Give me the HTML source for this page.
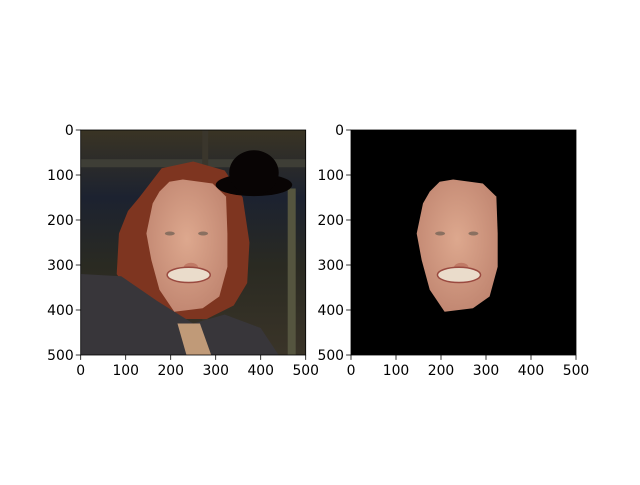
<!DOCTYPE html>
<html><head><meta charset="utf-8"><style>
body{margin:0;background:#fff}
svg text{font-family:"DejaVu Sans","Liberation Sans",sans-serif;font-size:13.9px;fill:#000}
</style></head><body>
<svg width="640" height="480" viewBox="0 0 640 480">
<defs>
<clipPath id="c1"><rect x="80.7" y="130" width="225" height="225"/></clipPath>
<clipPath id="c2"><rect x="351" y="130" width="225" height="225"/></clipPath>
<linearGradient id="bg" x1="0" y1="0" x2="0" y2="1">
<stop offset="0" stop-color="#3a3424"/><stop offset="0.3" stop-color="#1c2230"/><stop offset="0.6" stop-color="#2a2a22"/><stop offset="1" stop-color="#3a3428"/></linearGradient>
<radialGradient id="skin" cx="0.5" cy="0.45" r="0.6"><stop offset="0" stop-color="#dda88e"/><stop offset="1" stop-color="#c08570"/></radialGradient>
</defs>
<g id="ax1"></g>
<g id="ax2"></g>
<script>
const ticks=[0,100,200,300,400,500];
const facePoly=[[197,115],[175,137],[160,163],[146,230],[157,289],[175,355],[208,404],[271,396],[308,370],[326,304],[326,230],[323,148],[293,119],[227,110]];
const axes=[{g:'ax1',x0:80.7,clip:'c1',photo:true},{g:'ax2',x0:351,clip:'c2',photo:false}];
const NS='http://www.w3.org/2000/svg';
function mk(p,t,a){const e=document.createElementNS(NS,t);for(const k in a)e.setAttribute(k,a[k]);p.appendChild(e);return e;}
axes.forEach(A=>{
 const g=document.getElementById(A.g);
 const sx=v=>A.x0+v*0.45, sy=v=>130+v*0.45;
 const P=a=>a.map(p=>sx(p[0])+','+sy(p[1])).join(' ');
 const img=mk(g,'g',{'clip-path':'url(#'+A.clip+')'});
 
 
 if(A.photo){
  mk(img,'rect',{x:sx(0),y:sy(0),width:225,height:225,fill:'url(#bg)'});
  mk(img,'rect',{x:sx(0),y:sy(65),width:225,height:8,fill:'#3e3e36'});
  mk(img,'rect',{x:sx(270),y:sy(0),width:6,height:225,fill:'#3a362c'});
  mk(img,'rect',{x:sx(460),y:sy(130),width:8,height:170,fill:'#55553f'});
  mk(img,'polygon',{points:P([[130,150],[180,85],[250,70],[320,90],[360,150],[375,250],[370,340],[340,390],[280,420],[190,420],[120,380],[80,320],[85,230],[105,180]]),fill:'#7e3520'});
  mk(img,'polygon',{points:P([[0,320],[90,325],[170,380],[250,430],[320,410],[400,440],[440,500],[0,500]]),fill:'#38363a'});
  mk(img,'polygon',{points:P([[215,430],[265,430],[290,500],[235,500]]),fill:'#c09a78'});
  const hat=mk(img,'g',{});
  
  
  mk(hat,'ellipse',{cx:sx(385),cy:sy(122),rx:0.45*85,ry:0.45*25,fill:'#080404'});
  mk(hat,'ellipse',{cx:sx(385),cy:sy(95),rx:0.45*55,ry:0.45*50,fill:'#080404'});
 } else {
  mk(img,'rect',{x:sx(0),y:sy(0),width:225,height:225,fill:'#000'});
 }
 mk(img,'polygon',{points:P(facePoly),fill:'url(#skin)'});
 [[198,230],[272,230]].forEach(e=>mk(img,'ellipse',{cx:sx(e[0]),cy:sy(e[1]),rx:5,ry:2,fill:'#8a7060'}));
 mk(img,'ellipse',{cx:sx(245),cy:sy(305),rx:0.45*16,ry:0.45*10,fill:'#c07a66'});
 mk(img,'ellipse',{cx:sx(240),cy:sy(322),rx:0.45*48,ry:0.45*17,fill:'#eadccb',stroke:'#9a4a40','stroke-width':1.5});
 mk(g,'rect',{x:sx(0),y:sy(0),width:225,height:225,fill:'none',stroke:'#000','stroke-width':0.8});
 ticks.forEach(t=>{
  mk(g,'line',{x1:sx(t),x2:sx(t),y1:355,y2:359.9,stroke:'#000','stroke-width':0.8});
  const tx=mk(g,'text',{x:sx(t),y:375,'text-anchor':'middle'});tx.textContent=t;
  
  
  mk(g,'line',{x1:A.x0-4.9,x2:A.x0,y1:sy(t),y2:sy(t),stroke:'#000','stroke-width':0.8});
  const ty=mk(g,'text',{x:A.x0-7,y:sy(t)+5,'text-anchor':'end'});ty.textContent=t;
  
  
 });
});
</script>
</svg>
</body></html>
